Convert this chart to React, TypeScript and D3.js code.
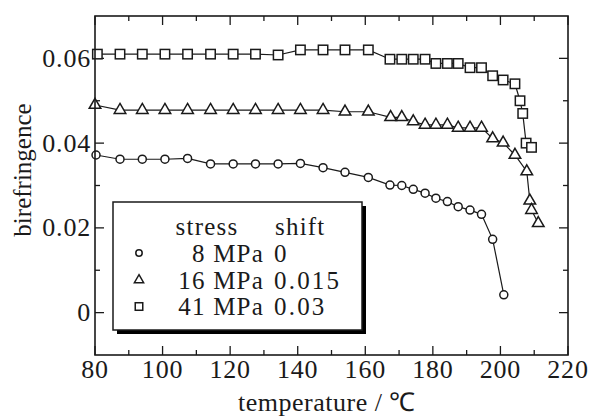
import React from 'react';
import * as d3 from 'd3';

// 8 MPa (shift 0)
const circleT = [80.3, 87.4, 94.0, 100.7, 107.4, 114.2, 120.9, 127.5, 134.2, 140.8, 147.5, 154.0, 160.9, 167.3, 170.8, 174.2, 177.7, 180.9, 184.3, 187.5, 191.0, 194.4, 197.7, 201.0];
const circleV = [0.0372, 0.0362, 0.0362, 0.0362, 0.0364, 0.0351, 0.0351, 0.0351, 0.0351, 0.0352, 0.0342, 0.0331, 0.0319, 0.0301, 0.0300, 0.0291, 0.0282, 0.0270, 0.0262, 0.0250, 0.0242, 0.0232, 0.0173, 0.0042];

// 16 MPa (shift 0.015)
const triT = [80.0, 87.4, 94.0, 100.7, 107.4, 114.2, 120.9, 127.5, 134.2, 140.8, 147.5, 154.0, 160.9, 167.5, 170.8, 174.2, 177.7, 180.9, 184.3, 187.5, 191.0, 194.4, 197.7, 200.8, 204.3, 207.8, 208.7, 209.2, 211.2];
const triV = [0.0490, 0.0478, 0.0478, 0.0478, 0.0478, 0.0478, 0.0478, 0.0478, 0.0478, 0.0478, 0.0478, 0.0474, 0.0474, 0.0461, 0.0461, 0.0451, 0.0443, 0.0443, 0.0443, 0.0436, 0.0436, 0.0436, 0.0411, 0.0401, 0.0372, 0.0333, 0.0264, 0.0242, 0.0211];

// 41 MPa (shift 0.03)
const sqT = [80.7, 87.4, 94.0, 100.7, 107.4, 114.2, 120.9, 127.5, 134.2, 140.8, 147.5, 154.0, 160.9, 167.3, 170.8, 174.2, 177.7, 180.9, 184.3, 187.5, 191.0, 194.4, 197.7, 200.8, 204.3, 205.8, 206.6, 207.6, 209.2];
const sqV = [0.0610, 0.0610, 0.0610, 0.0610, 0.0610, 0.0610, 0.0610, 0.0610, 0.0608, 0.0620, 0.0620, 0.0620, 0.0620, 0.0598, 0.0598, 0.0598, 0.0598, 0.0588, 0.0588, 0.0588, 0.0578, 0.0578, 0.0559, 0.0549, 0.0540, 0.0500, 0.0470, 0.0400, 0.0390];

const xMajor = [80, 100, 120, 140, 160, 180, 200, 220];
const xMinor = [90, 110, 130, 150, 170, 190, 210];
const yMajor = [0, 0.02, 0.04, 0.06];
const yMinor = [0.01, 0.03, 0.05];
const yLabels = ['0', '0.02', '0.04', '0.06'];

const legendStress = ['8 MPa', '16 MPa', '41 MPa'];
const legendShift = ['0', '0.015', '0.03'];
const legendShapes = ['circle', 'triangle', 'square'];

const W = 590, H = 418;
const m = { left: 95, right: 568, top: 16, bottom: 355 };
const FONT = '"Liberation Serif", "Times New Roman", serif';
const INK = '#1a1a1a';

const x = d3.scaleLinear().domain([80, 220]).range([m.left, m.right]);
const y = d3.scaleLinear().domain([-0.01, 0.07]).range([m.bottom, m.top]);

const line = d3.line<[number, number]>().x(d => x(d[0])).y(d => y(d[1]));

function Marker({ shape, cx, cy, s = 1 }: { shape: string; cx: number; cy: number; s?: number }) {
  const common = { fill: '#fff', stroke: INK, strokeWidth: 1.5 };
  if (shape === 'circle') return <circle cx={cx} cy={cy} r={4 * s} {...common} />;
  if (shape === 'square') {
    const h = 4.7 * s;
    return <rect x={cx - h} y={cy - h} width={2 * h} height={2 * h} {...common} />;
  }
  const tri = d3.symbol(d3.symbolTriangle, 58 * s * s)();
  return <path d={tri || ''} transform={`translate(${cx},${cy})`} {...common} />;
}

function Series({ t, v, shape }: { t: number[]; v: number[]; shape: string }) {
  const pts: [number, number][] = t.map((d, i) => [d, v[i]]);
  return (
    <g>
      <path d={line(pts) || ''} fill="none" stroke={INK} strokeWidth={1.2} />
      {pts.map((p, i) => (
        <Marker key={i} shape={shape} cx={x(p[0])} cy={y(p[1])} />
      ))}
    </g>
  );
}

export default function App() {
  const lx = 113, ly = 202, lw = 249, lh = 128;
  const rowY = [253, 280, 306.5];
  const txt = { fontFamily: FONT };
  return (
    <div style={{ position: 'absolute', left: 0, top: 0, background: '#fff' }}>
      <svg width={W} height={H} style={{ display: 'block', fontFamily: FONT }}>
        <rect width={W} height={H} fill="#fff" />

        {/* ticks, inward on all four sides */}
        <g stroke={INK} strokeWidth={1.3}>
          {xMajor.map(t => (
            <g key={'xM' + t}>
              <line x1={x(t)} x2={x(t)} y1={m.bottom} y2={m.bottom - 9} />
              <line x1={x(t)} x2={x(t)} y1={m.top} y2={m.top + 9} />
            </g>
          ))}
          {xMinor.map(t => (
            <g key={'xm' + t}>
              <line x1={x(t)} x2={x(t)} y1={m.bottom} y2={m.bottom - 5} />
              <line x1={x(t)} x2={x(t)} y1={m.top} y2={m.top + 5} />
            </g>
          ))}
          {yMajor.map(t => (
            <g key={'yM' + t}>
              <line x1={m.left} x2={m.left + 9} y1={y(t)} y2={y(t)} />
              <line x1={m.right} x2={m.right - 9} y1={y(t)} y2={y(t)} />
            </g>
          ))}
          {yMinor.map(t => (
            <g key={'ym' + t}>
              <line x1={m.left} x2={m.left + 5} y1={y(t)} y2={y(t)} />
              <line x1={m.right} x2={m.right - 5} y1={y(t)} y2={y(t)} />
            </g>
          ))}
        </g>

        <Series t={circleT} v={circleV} shape="circle" />
        <Series t={triT} v={triV} shape="triangle" />
        <Series t={sqT} v={sqV} shape="square" />

        <rect x={m.left} y={m.top} width={m.right - m.left} height={m.bottom - m.top}
          fill="none" stroke={INK} strokeWidth={1.6} />

        {/* tick labels */}
        <g fontSize={26} fill={INK} style={txt} letterSpacing={0.8}>
          {xMajor.map(t => (
            <text key={'xl' + t} x={x(t)} y={m.bottom + 23} textAnchor="middle">{t}</text>
          ))}
          {yMajor.map((t, i) => (
            <text key={'yl' + t} x={m.left - 4} y={y(t) + 8.5} textAnchor="end">{yLabels[i]}</text>
          ))}
        </g>

        <text x={327} y={411} fontSize={26} letterSpacing={0.5} textAnchor="middle" fill={INK} style={txt}>
          temperature / ℃
        </text>
        <text transform="translate(31,170) rotate(-90)" fontSize={25} textAnchor="middle" fill={INK} style={txt}>
          birefringence
        </text>

        {/* legend */}
        <rect x={lx + 4} y={ly + 4} width={lw} height={lh} fill="#000" />
        <rect x={lx} y={ly} width={lw} height={lh} fill="#fff" stroke={INK} strokeWidth={1.5} />
        <g fontSize={25} fill={INK} letterSpacing={1.2} style={txt}>
          <text x={207} y={235} textAnchor="middle">stress</text>
          <text x={275} y={235}>shift</text>
          {legendStress.map((s, i) => (
            <g key={s}>
              <Marker shape={legendShapes[i]} cx={139} cy={rowY[i]} s={0.8} />
              <text x={264} y={rowY[i] + 8.5} textAnchor="end">{s}</text>
              <text x={274} y={rowY[i] + 8.5} letterSpacing={2.2}>{legendShift[i]}</text>
            </g>
          ))}
        </g>
      </svg>
    </div>
  );
}
